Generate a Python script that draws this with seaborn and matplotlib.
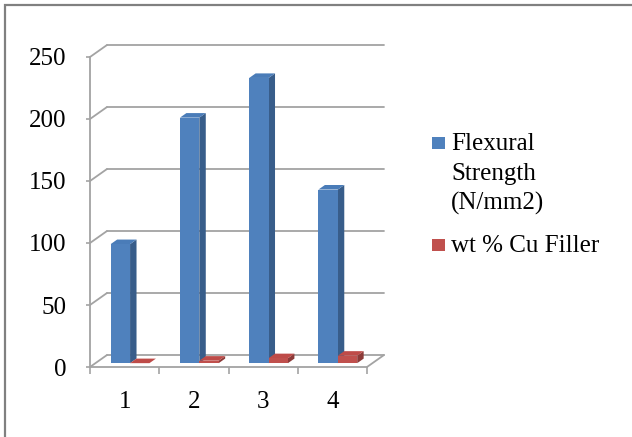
import matplotlib
matplotlib.use("Agg")
import matplotlib.pyplot as plt
import numpy as np
import pandas as pd
import seaborn as sns
from matplotlib.patches import Polygon, Rectangle

# ---- data ----
categories = ["1", "2", "3", "4"]
flexural_strength = [96, 198, 230, 140]
cu_filler = [0, 2, 4, 6]
series_names = ["Flexural Strength (N/mm2)", "wt % Cu Filler"]
legend_lines = [["Flexural", "Strength", "(N/mm2)"], ["wt % Cu Filler"]]
y_ticks = [0, 50, 100, 150, 200, 250]

# ---- style ----
BLUE, BLUE_SIDE, BLUE_TOP = "#4F81BD", "#385D8A", "#4A7CB8"
RED, RED_SIDE, RED_TOP = "#C0504D", "#8C3A38", "#BE4B48"
GRID = "#a3a3a3"
FS = 18

sns.set_theme(style="white")
plt.rcParams["font.family"] = ["Liberation Serif", "DejaVu Serif"]

W, H = 632, 437
fig = plt.figure(figsize=(W / 100, H / 100), dpi=100)

# front plane of the plot box, in pixels
L, R, T, B = 90, 367, 57, 367
ax = fig.add_axes([L / W, 1 - B / H, (R - L) / W, (B - T) / H])

df = pd.DataFrame({
    "cat": categories * 2,
    "series": [series_names[0]] * len(categories) + [series_names[1]] * len(categories),
    "value": flexural_strength + cu_filler,
})
sns.barplot(data=df, x="cat", y="value", hue="series", palette=[BLUE, RED],
            width=0.56, saturation=1, ax=ax, legend=False, linewidth=0)

XMIN, XMAX, YMAX = -0.5, len(categories) - 0.5, 250
ax.set_xlim(XMIN, XMAX)
ax.set_ylim(0, YMAX)

# depth of the box in pixels -> data units
px_x = (XMAX - XMIN) / (R - L)
px_y = YMAX / (B - T)
DEPTH_X, DEPTH_Y = 17 * px_x, 12 * px_y


def at_depth(x, y, d):
    return (x + d * DEPTH_X, y + d * DEPTH_Y)


# back wall gridlines and side wall diagonals
for v in y_ticks:
    x0, y0 = at_depth(XMIN, v, 1)
    x1, y1 = at_depth(XMAX, v, 1)
    ax.plot([x0, x1], [y0, y1], color=GRID, lw=1.3, clip_on=False, zorder=1)
    ax.plot([XMIN, x0], [v, y0], color=GRID, lw=1.3, clip_on=False, zorder=1)
# floor right edge
xr, yr = at_depth(XMAX, 0, 1)
ax.plot([XMAX, xr], [0, yr], color=GRID, lw=1.3, clip_on=False, zorder=1)

# extrude the bars into 3D columns
FRONT, BACK = 0.32, 0.70
side_cols = [BLUE_SIDE, RED_SIDE]
top_cols = [BLUE_TOP, RED_TOP]
n = len(categories)
for i, p in enumerate(list(ax.patches)):
    s = i // n
    x, w, h = p.get_x(), p.get_width(), p.get_height()
    fx, fy = at_depth(0, 0, FRONT)
    bx, by = at_depth(0, 0, BACK)
    side = Polygon([(x + w + fx, fy), (x + w + fx, h + fy),
                    (x + w + bx, h + by), (x + w + bx, by)],
                   closed=True, facecolor=side_cols[s], lw=0,
                   clip_on=False, zorder=3 + s * 0.2)
    top = Polygon([(x + fx, h + fy), (x + w + fx, h + fy),
                   (x + w + bx, h + by), (x + bx, h + by)],
                  closed=True, facecolor=top_cols[s], lw=0,
                  clip_on=False, zorder=3 + s * 0.2)
    ax.add_patch(side)
    ax.add_patch(top)
    p.set_x(x + fx)
    p.set_y(fy)
    p.set_clip_on(False)
    p.set_zorder(3.1 + s * 0.2)

# axes styling
for sp in ["top", "right"]:
    ax.spines[sp].set_visible(False)
for sp in ["left", "bottom"]:
    ax.spines[sp].set_color(GRID)
    ax.spines[sp].set_linewidth(1.3)
ax.set_facecolor("none")
ax.set_xlabel("")
ax.set_ylabel("")
ax.set_yticks(y_ticks)
ax.set_yticklabels([str(v) for v in y_ticks])
ax.set_xticks(range(n))
ax.set_xticklabels(categories)
ax.set_xticks(np.arange(XMIN, XMAX + 0.01, 1), minor=True)
ax.tick_params(axis="y", which="major", length=3, width=1.2, color=GRID,
               pad=14, labelsize=FS, labelcolor="black", left=True)
ax.tick_params(axis="x", which="major", length=0, pad=17, labelsize=FS,
               labelcolor="black")
ax.tick_params(axis="x", which="minor", length=5, width=1.2, color=GRID,
               bottom=True)
ax.grid(False)

# legend
keys = [BLUE, RED]
key_y = [143, 245]
text_base = [[150, 180, 210], [252]]
for c, ky, lines, bases in zip(keys, key_y, legend_lines, text_base):
    fig.patches.append(Rectangle((432 / W, 1 - (ky + 6) / H), 13 / W, 12 / H,
                                 transform=fig.transFigure, facecolor=c,
                                 lw=0, figure=fig))
    for line, yb in zip(lines, bases):
        fig.text(451 / W, 1 - yb / H, line, fontsize=FS, color="black",
                 ha="left", va="baseline")

# outer frame
fig.patches.append(Rectangle((5 / W, -0.1), 1.2, 1 - 5 / H + 0.1,
                             transform=fig.transFigure, facecolor="none",
                             edgecolor="#808080", lw=1.6, figure=fig))

fig.savefig("out.png", dpi=100)
